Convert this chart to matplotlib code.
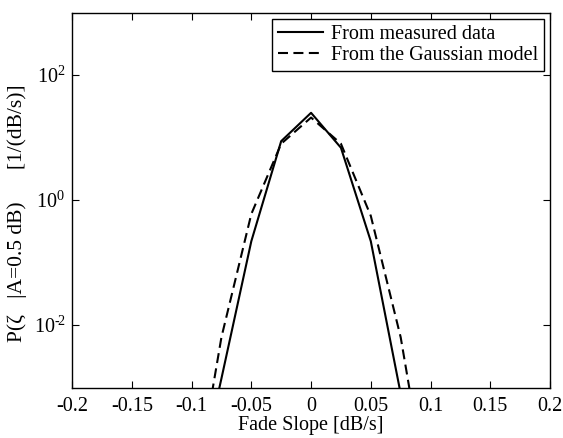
import numpy as np
import matplotlib
matplotlib.use('Agg')
import matplotlib.pyplot as plt

plt.rcParams['font.family'] = ['Liberation Serif', 'DejaVu Serif']
plt.rcParams['mathtext.fontset'] = 'custom'
plt.rcParams['mathtext.rm'] = 'Liberation Serif'
plt.rcParams['mathtext.it'] = 'Liberation Serif:italic'

# fade slope bins [dB/s]
slope = [-0.1, -0.075, -0.05, -0.025, 0.0, 0.025, 0.05, 0.075, 0.1]
# pdf values
measured = [1e-5, 1.4e-3, 0.22, 8.8, 25.0, 6.9, 0.22, 8e-4, 1e-5]
gaussian = [1e-5, 6.4e-3, 0.6, 8.0, 21.0, 8.0, 0.56, 6.4e-3, 1e-5]

xticks = [-0.2, -0.15, -0.1, -0.05, 0, 0.05, 0.1, 0.15, 0.2]
xticklabels = ['-0.2', '-0.15', '-0.1', '-0.05', '0', '0.05', '0.1', '0.15', '0.2']
yticks = [1e-2, 1e0, 1e2]
yticklabels = ['10$^{\u2010\\!2}$', '10$^{0}$', '10$^{2}$']

fs = 14.5

fig = plt.figure(figsize=(5.63, 4.38), dpi=100)
ax = fig.add_axes([0.128, 0.115, 0.849, 0.856])

ax.semilogy(slope, measured, 'k-', lw=1.5, label='From measured data')
ax.semilogy(slope, gaussian, 'k--', lw=1.5, dashes=(4.8, 2.6),
            label='From the Gaussian model')

ax.set_xlim(-0.2, 0.2)
ax.set_ylim(1e-3, 1e3)
ax.set_xticks(xticks)
ax.set_xticklabels(xticklabels)
ax.set_yticks(yticks)
ax.set_yticklabels(yticklabels)
ax.minorticks_off()
ax.tick_params(direction='in', top=True, right=True, labelsize=fs, length=5, width=0.8)
ax.tick_params(axis='x', pad=7)
ax.tick_params(axis='y', pad=5)
for s in ax.spines.values():
    s.set_linewidth(1.0)

ax.set_xlabel('Fade Slope [dB/s]', fontsize=fs, labelpad=0)
ax.set_ylabel('P(\u03b6   |A=0.5 dB)      [1/(dB/s)]', fontsize=15.5)
ax.yaxis.set_label_coords(-0.095, 0.465)

leg = ax.legend(loc='upper right', fontsize=fs, fancybox=False, framealpha=1,
                edgecolor='k', handlelength=2.2, borderaxespad=0.3,
                labelspacing=0.1, borderpad=0.3, handletextpad=0.4)
leg.get_frame().set_linewidth(1.0)

fig.savefig('out.png', dpi=100)
